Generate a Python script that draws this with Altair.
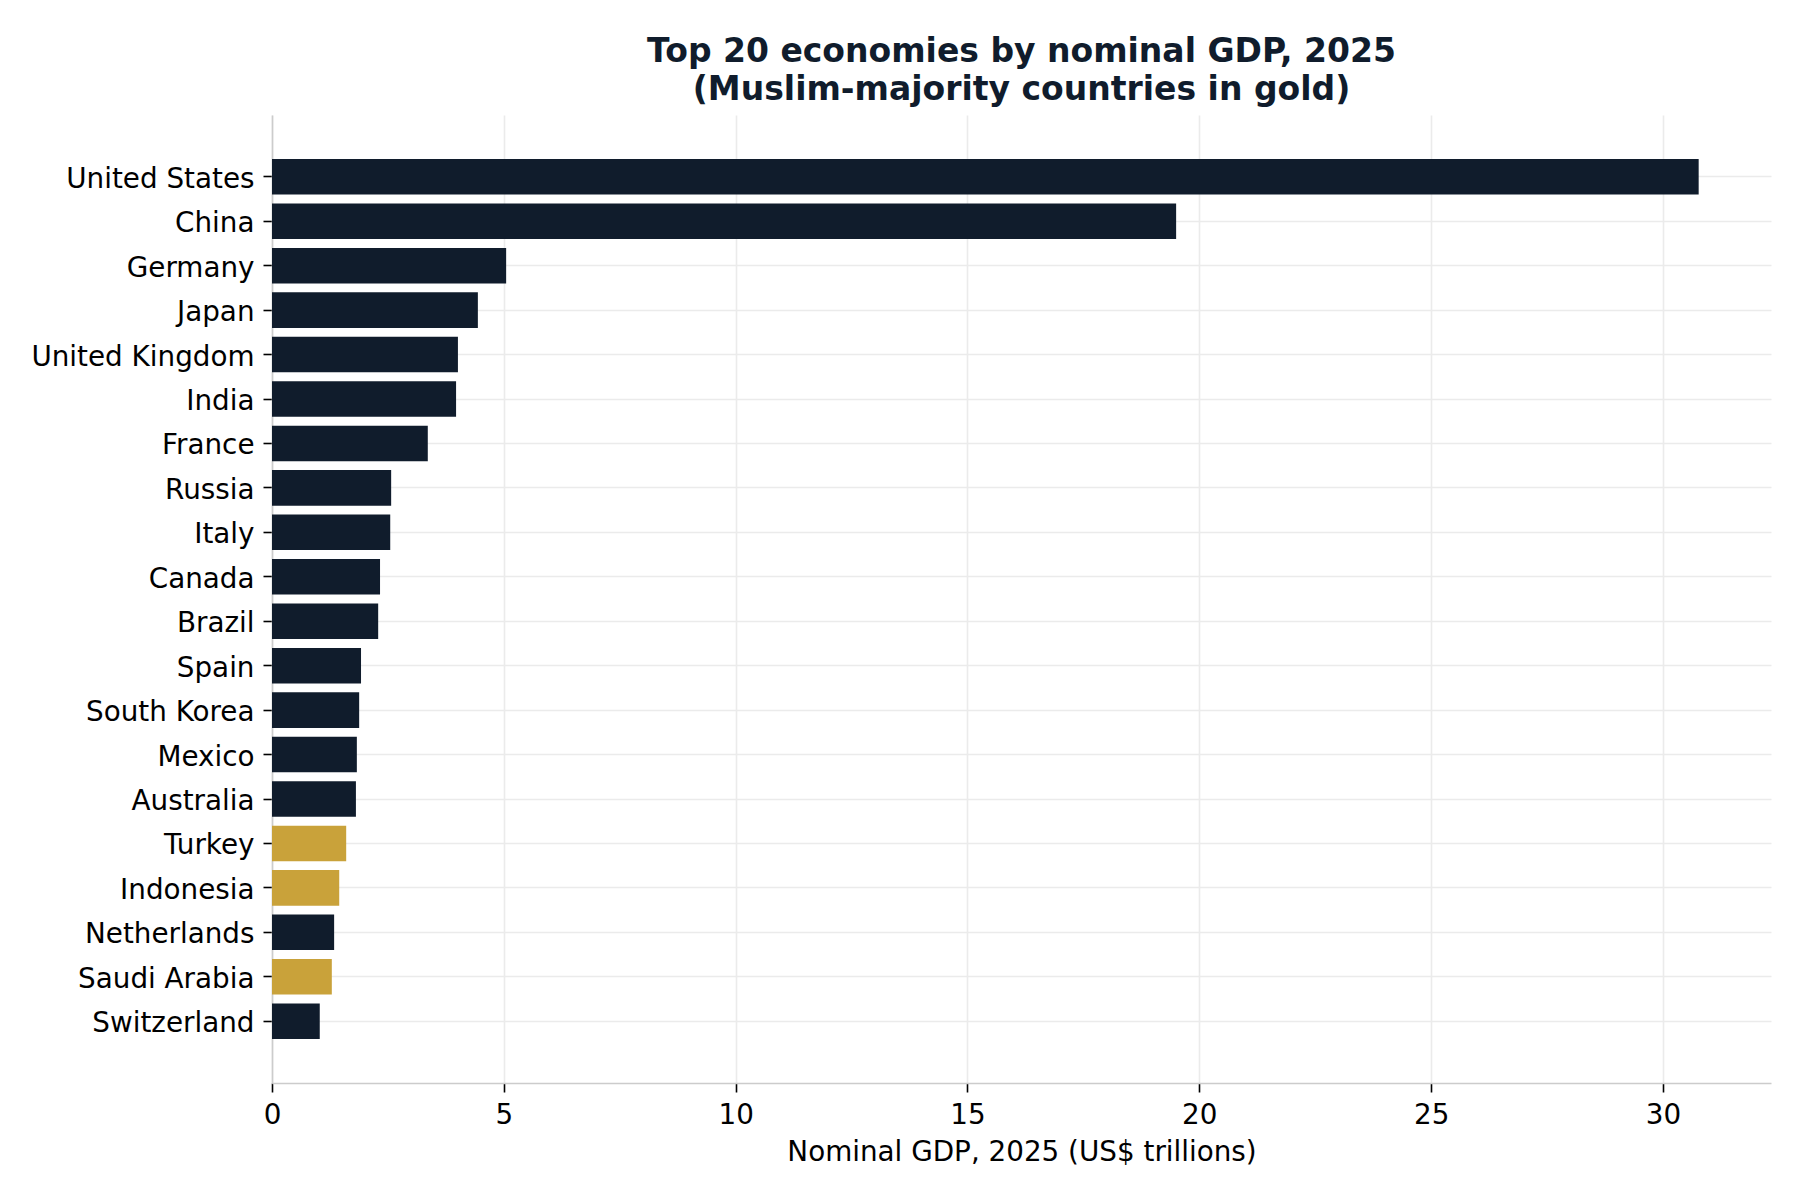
import altair as alt
import pandas as pd

countries = ["United States", "China", "Germany", "Japan", "United Kingdom", "India",
             "France", "Russia", "Italy", "Canada", "Brazil", "Spain", "South Korea",
             "Mexico", "Australia", "Turkey", "Indonesia", "Netherlands", "Saudi Arabia",
             "Switzerland"]
gdp = [30.77, 19.50, 5.05, 4.44, 4.01, 3.97, 3.36, 2.57, 2.55, 2.33, 2.29, 1.92, 1.88,
       1.83, 1.81, 1.60, 1.45, 1.34, 1.29, 1.03]
muslim_majority = [False, False, False, False, False, False, False, False, False, False,
                   False, False, False, False, False, True, True, False, True, False]
x_ticks = [0, 5, 10, 15, 20, 25, 30]

NAVY = "#101c2c"
GOLD = "#c9a23a"

df = pd.DataFrame({
    "country": countries,
    "gdp": gdp,
    "group": ["Muslim-majority" if m else "Other" for m in muslim_majority],
})

FONT = "DejaVu Sans"

chart = alt.Chart(df).mark_bar().encode(
    y=alt.Y("country:N", sort=countries,
            scale=alt.Scale(paddingInner=0.2, paddingOuter=0.99),
            axis=alt.Axis(title=None, labelFontSize=27.8, labelColor="#000000",
                          labelFont=FONT, labelLimit=0, labelOffset=3,
                          tickColor="#000000", tickSize=9,
                          tickWidth=1.6, labelPadding=9, domainColor="#cccccc",
                          domainWidth=1.6, grid=True, gridColor="#ebebeb", gridWidth=1.6)),
    x=alt.X("gdp:Q",
            scale=alt.Scale(domain=[0, 32.33], nice=False, zero=True),
            axis=alt.Axis(title="Nominal GDP, 2025 (US$ trillions)", values=x_ticks,
                          format="d", labelFontSize=27.8, labelColor="#000000",
                          labelFont=FONT, labelFlush=False, tickColor="#000000",
                          tickSize=9, tickWidth=1.6,
                          labelPadding=9, domainColor="#cccccc", domainWidth=1.6,
                          grid=True, gridColor="#ebebeb", gridWidth=1.6,
                          titleFont=FONT, titleFontSize=27.8, titleFontWeight="normal",
                          titleColor="#000000", titlePadding=10)),
    color=alt.Color("group:N",
                    scale=alt.Scale(domain=["Muslim-majority", "Other"], range=[GOLD, NAVY]),
                    legend=None),
).properties(
    width=1499,
    height=968,
    background="white",
    title=alt.TitleParams(
        text=["Top 20 economies by nominal GDP, 2025", "(Muslim-majority countries in gold)"],
        font=FONT, fontSize=33, fontWeight="bold", color="#101c2c",
        anchor="middle", frame="group", offset=8, lineHeight=38,
    ),
    padding={"left": 264, "top": 107, "right": 20, "bottom": 105},
    autosize=alt.AutoSizeParams(type="none"),
).configure_view(stroke=None, strokeWidth=0)

chart.save("out.html", embed_options={"renderer": "svg", "actions": False})
